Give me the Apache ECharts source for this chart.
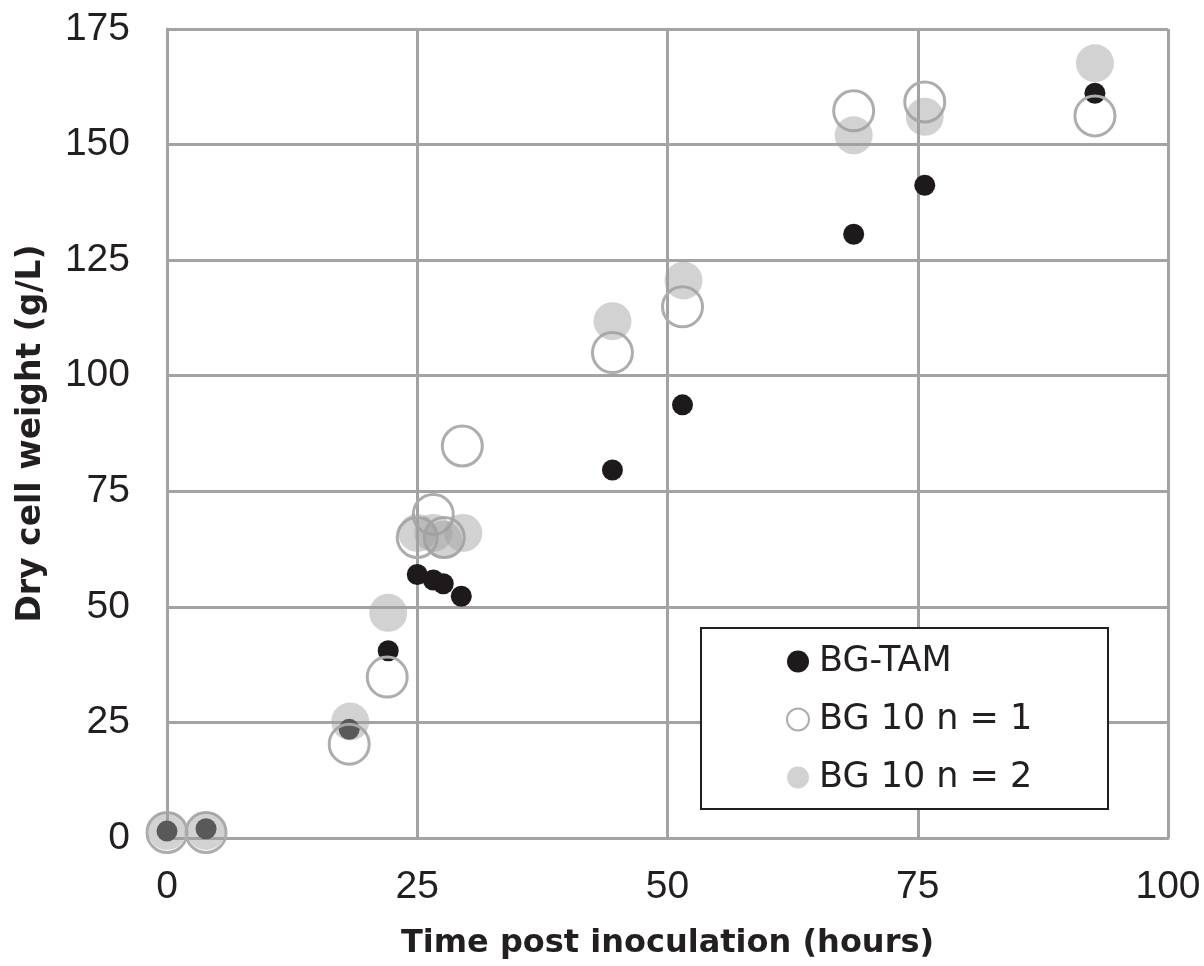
<!DOCTYPE html>
<html>
<head>
<meta charset="utf-8">
<script src="https://cdn.jsdelivr.net/npm/echarts@6/dist/echarts.min.js"></script>
<style>html,body{margin:0;padding:0;background:#fff}#c{width:1204px;height:966px}</style>
</head>
<body>
<div id="c"></div>
<script>
const seriesNames = ['BG-TAM', 'BG 10 n = 1', 'BG 10 n = 2'];
const tamTime = [0, 3.9, 18.2, 22.1, 25, 26.6, 27.6, 29.4, 44.5, 51.5, 68.6, 75.7, 92.7];
const tamDcw  = [1.5, 2, 23.5, 40.5, 57, 55.8, 55, 52.3, 79.6, 93.7, 130.6, 141.2, 161.1];
const n1Time = [0, 3.9, 18.2, 22, 25, 26.6, 27.7, 29.5, 44.5, 51.5, 68.6, 75.7, 92.7];
const n1Dcw  = [1.2, 1.2, 20.3, 34.8, 65, 70, 65, 84.8, 105, 114.9, 157.3, 159.2, 156.2];
const n2Time = [0, 3.9, 18.3, 22.1, 25, 26.6, 27.6, 29.6, 44.5, 51.6, 68.6, 75.7, 92.7];
const n2Dcw  = [1.5, 1.5, 25.2, 48.7, 66, 66, 64.5, 66, 111.8, 120.6, 152, 156, 167.6];
const xTicks = [0, 25, 50, 75, 100];
const yTicks = [0, 25, 50, 75, 100, 125, 150, 175];

const zip = (a, b) => a.map((v, i) => [v, b[i]]);
const gridColor = '#a3a3a3';
const inkColor = '#231f20';
const tickFont = '"Liberation Sans", Arial, sans-serif';
const wideFont = '"DejaVu Sans", "Liberation Sans", Arial, sans-serif';

const chart = echarts.init(document.getElementById('c'), null, {renderer: 'canvas'});
chart.setOption({
  animation: false,
  backgroundColor: '#ffffff',
  grid: {left: 167, top: 29, right: 36, bottom: 128, containLabel: false, outerBoundsMode: 'none'},
  xAxis: {
    type: 'value', min: xTicks[0], max: xTicks[xTicks.length - 1], interval: 25,
    name: 'Time post inoculation (hours)', nameLocation: 'middle', nameGap: 90,
    nameTextStyle: {fontFamily: wideFont, fontWeight: 'bold', fontSize: 32, color: inkColor},
    axisLine: {show: true, lineStyle: {color: gridColor, width: 3}},
    axisTick: {show: false},
    axisLabel: {fontFamily: tickFont, fontSize: 39, color: inkColor, margin: 30},
    splitLine: {show: true, lineStyle: {color: gridColor, width: 3}}
  },
  yAxis: {
    type: 'value', min: yTicks[0], max: yTicks[yTicks.length - 1], interval: 25,
    name: 'Dry cell weight (g/L)', nameLocation: 'middle', nameGap: 119, nameRotate: 90,
    nameTextStyle: {fontFamily: wideFont, fontWeight: 'bold', fontSize: 33, color: inkColor},
    axisLine: {show: true, lineStyle: {color: gridColor, width: 3}},
    axisTick: {show: false},
    axisLabel: {fontFamily: tickFont, fontSize: 39, color: inkColor, margin: 37},
    splitLine: {show: true, lineStyle: {color: gridColor, width: 3}}
  },
  graphic: [{
    type: 'rect', z: 3, left: 700, top: 627,
    shape: {width: 407, height: 181},
    style: {fill: '#fff', stroke: inkColor, lineWidth: 2}
  }],
  legend: {
    orient: 'vertical', left: 781, top: 639, itemGap: 23, itemWidth: 22, itemHeight: 22,
    z: 5,
    textStyle: {fontFamily: wideFont, fontSize: 35, color: inkColor, padding: [0, 0, 0, 5]},
    data: seriesNames.map(n => ({name: n, icon: 'circle'}))
  },
  series: [
    {
      name: seriesNames[0], type: 'scatter', data: zip(tamTime, tamDcw), z: 2,
      symbol: 'circle', symbolSize: 21,
      itemStyle: {color: '#1e1a1b', opacity: 1}
    },
    {
      name: seriesNames[1], type: 'scatter', data: zip(n1Time, n1Dcw), z: 3,
      symbol: 'circle', symbolSize: 40,
      itemStyle: {color: 'rgba(255,255,255,0)', borderColor: '#adadad', borderWidth: 3, opacity: 1}
    },
    {
      name: seriesNames[2], type: 'scatter', data: zip(n2Time, n2Dcw), z: 4,
      symbol: 'circle', symbolSize: 38,
      itemStyle: {color: '#a0a0a0', opacity: 0.47}
    }
  ]
});
</script>
</body>
</html>
